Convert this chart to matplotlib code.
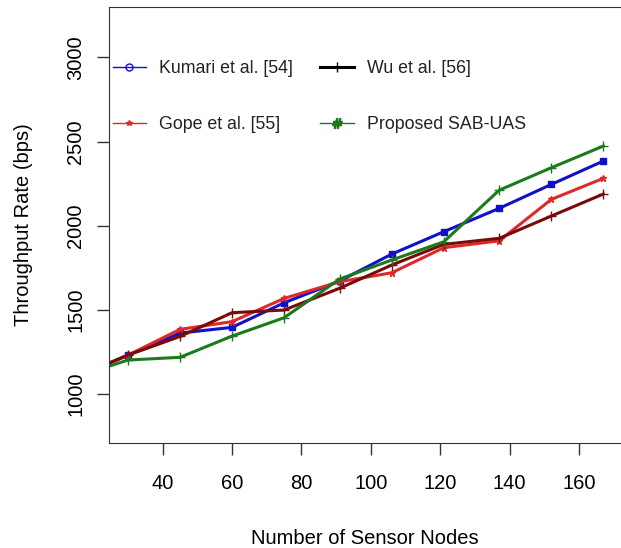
import matplotlib.pyplot as plt
from matplotlib.lines import Line2D

plt.rcParams['font.family'] = ['Liberation Sans', 'DejaVu Sans']

# x positions (first point sits left of the visible range, as in the original)
nodes = [15, 30, 45, 60, 75, 91, 106, 121, 137, 152, 167]

kumari = [1100, 1231, 1362, 1396, 1542, 1671, 1831, 1964, 2103, 2245, 2384]
gope = [1099, 1231, 1384, 1430, 1568, 1667, 1720, 1869, 1910, 2156, 2281]
wu = [1100, 1231, 1342, 1483, 1499, 1628, 1766, 1889, 1925, 2057, 2188]
proposed = [1101, 1202, 1218, 1344, 1453, 1683, 1796, 1904, 2211, 2344, 2473]

labels = ['Kumari et al. [54]', 'Gope et al. [55]', 'Wu et al. [56]', 'Proposed SAB-UAS']
yticks = [1000, 1500, 2000, 2500, 3000]
xticks = [40, 60, 80, 100, 120, 140, 160]

fig = plt.figure(figsize=(6.21, 5.48), dpi=100)
ax = fig.add_axes([0.1763, 0.1916, 1 - 0.1763, 0.9872 - 0.1916])

ax.plot(nodes, kumari, color='#1010C8', lw=2.2, marker='s', ms=4)
ax.plot(nodes, gope, color='#E02828', lw=2.2, marker='*', ms=5)
ax.plot(nodes, wu, color='#7A0A0A', lw=2.2, marker='+', ms=7)
ax.plot(nodes, proposed, color='#1B7A1B', lw=2.2, marker='+', ms=7)

ax.set_xlim(24.67, 172.1)
ax.set_ylim(709, 3299)
ax.set_xticks(xticks)
ax.set_yticks(yticks)
ax.set_yticklabels([str(v) for v in yticks], rotation=90, va='center')
ax.tick_params(length=8.5, width=1, labelsize=14.5, color='#333333')
ax.tick_params(axis='x', pad=14)
ax.tick_params(axis='y', pad=9)
ax.spines['right'].set_visible(False)
for s in ['left', 'bottom', 'top']:
    ax.spines[s].set_color('#333333')

ax.set_xlabel('Number of Sensor Nodes', fontsize=14.5, labelpad=26)
ax.set_ylabel('Throughput Rate (bps)', fontsize=14.5, labelpad=24)

handles = [
    Line2D([], [], color='#1010C8', lw=1, marker='o', ms=5, mfc='none'),
    Line2D([], [], color='#E02828', lw=1, marker='*', ms=4),
    Line2D([], [], color='black', lw=2.2, marker='+', ms=7),
    Line2D([], [], color='#1B7A1B', lw=1, marker=r'$\#$', ms=7),
]
ax.legend(handles, labels, ncol=2, loc='upper left', bbox_to_anchor=(0.006, 0.878),
          frameon=False, fontsize=12.8, handlelength=1.9, handletextpad=0.73,
          columnspacing=1.5, labelspacing=2.19, borderpad=0, borderaxespad=0,
          labelcolor='#222222')

fig.savefig('out.png', dpi=100)
